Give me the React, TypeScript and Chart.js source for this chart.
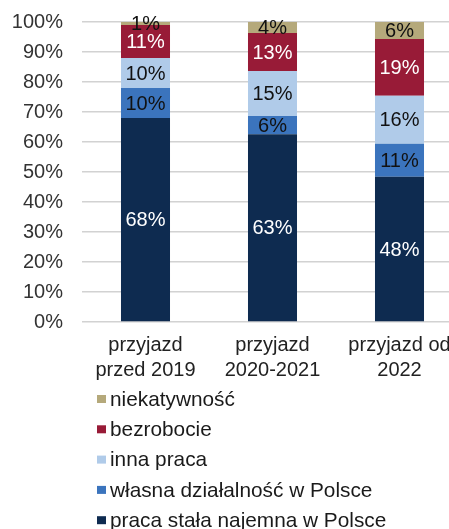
import React, { useEffect, useRef } from 'react';
import { Chart, registerables } from 'chart.js';

Chart.register(...registerables);

const categories: string[][] = [
  ['przyjazd', 'przed 2019'],
  ['przyjazd', '2020-2021'],
  ['przyjazd od', '2022'],
];
const seriesNames = [
  'praca stała najemna w Polsce',
  'własna działalność w Polsce',
  'inna praca',
  'bezrobocie',
  'niekatywność',
];
const stalaNajemna = [68, 62.6, 48.4];
const wlasnaDzialalnosc = [10, 6.1, 11];
const innaPraca = [10, 15, 16];
const bezrobocie = [11, 12.6, 18.9];
const niekatywnosc = [1, 3.7, 5.7];
const yTickValues = [0, 10, 20, 30, 40, 50, 60, 70, 80, 90, 100];

const seriesValues = [stalaNajemna, wlasnaDzialalnosc, innaPraca, bezrobocie, niekatywnosc];
const seriesColors = ['#0e2b50', '#3b74bd', '#b0cbe9', '#981b37', '#b5a97b'];
const labelColors = ['#ffffff', '#111111', '#111111', '#ffffff', '#111111'];

const FONT = "'Liberation Sans', Arial, sans-serif";
const FONT_SIZE = 20;
const LEGEND_FONT_SIZE = 20.8;

const dataLabelPlugin = {
  id: 'segmentLabels',
  afterDatasetsDraw(chart: any) {
    const ctx = chart.ctx;
    ctx.save();
    ctx.font = `${FONT_SIZE}px ${FONT}`;
    ctx.textAlign = 'center';
    ctx.textBaseline = 'middle';
    chart.data.datasets.forEach((ds: any, di: number) => {
      const meta = chart.getDatasetMeta(di);
      meta.data.forEach((el: any, i: number) => {
        const p = el.getProps(['x', 'y', 'base'], true);
        const v = ds.data[i];
        ctx.fillStyle = labelColors[di];
        ctx.fillText(Math.round(v) + '%', p.x, (p.y + p.base) / 2 + 1);
      });
    });
    ctx.restore();
  },
};

const columnLegendPlugin = {
  id: 'columnLegend',
  afterDraw(chart: any) {
    const ctx = chart.ctx;
    const area = chart.chartArea;
    const ds = chart.data.datasets;
    ctx.save();
    ctx.font = `${LEGEND_FONT_SIZE}px ${FONT}`;
    ctx.textAlign = 'left';
    ctx.textBaseline = 'middle';
    const n = ds.length;
    for (let k = 0; k < n; k++) {
      const d = ds[n - 1 - k];
      const cy = area.bottom + 77 + k * 30.3;
      ctx.fillStyle = d.backgroundColor;
      ctx.fillRect(97, cy - 4, 9, 8);
      ctx.fillStyle = '#1a1a1a';
      ctx.fillText(d.label, 110, cy + 1);
    }
    ctx.restore();
  },
};

export default function App() {
  const canvasRef = useRef<HTMLCanvasElement | null>(null);

  useEffect(() => {
    document.body.style.margin = '0';
    document.body.style.overflow = 'hidden';
    const canvas = canvasRef.current;
    if (!canvas) return;
    const chart = new Chart(canvas, {
      type: 'bar',
      data: {
        labels: categories,
        datasets: seriesNames.map((name, i) => ({
          label: name,
          data: seriesValues[i],
          backgroundColor: seriesColors[i],
          borderWidth: 0,
          categoryPercentage: 1,
          barPercentage: 0.386,
        })),
      },
      options: {
        animation: false,
        responsive: false,
        devicePixelRatio: 1,
        layout: { padding: { left: 0, right: 3, top: 22, bottom: 157 } },
        plugins: {
          legend: { display: false },
          tooltip: { enabled: false },
        },
        scales: {
          x: {
            stacked: true,
            grid: { display: false, drawTicks: false },
            border: { display: false },
            ticks: {
              color: '#222222',
              padding: 11,
              font: { family: FONT, size: FONT_SIZE, lineHeight: 1.25 },
              maxRotation: 0,
              autoSkip: false,
            },
            afterFit: (s: any) => {
              s.height = 61;
            },
          },
          y: {
            stacked: true,
            min: 0,
            max: 100,
            afterBuildTicks: (s: any) => {
              s.ticks = yTickValues.map((v) => ({ value: v }));
            },
            grid: {
              color: '#d2d2d2',
              lineWidth: 1.6,
              drawTicks: true,
              tickLength: 19,
              tickColor: 'rgba(0,0,0,0)',
            },
            border: { display: false },
            ticks: {
              color: '#333333',
              padding: 0,
              font: { family: FONT, size: FONT_SIZE },
              callback: (v: any) => v + '%',
            },
            afterFit: (s: any) => {
              s.width = 82;
            },
          },
        },
      },
      plugins: [dataLabelPlugin, columnLegendPlugin],
    });
    return () => chart.destroy();
  }, []);

  return (
    <div style={{ position: 'fixed', left: 0, top: 0, width: 449, height: 529, overflow: 'hidden', background: '#fff' }}>
      <canvas ref={canvasRef} width={466} height={540} style={{ display: 'block' }} />
    </div>
  );
}
